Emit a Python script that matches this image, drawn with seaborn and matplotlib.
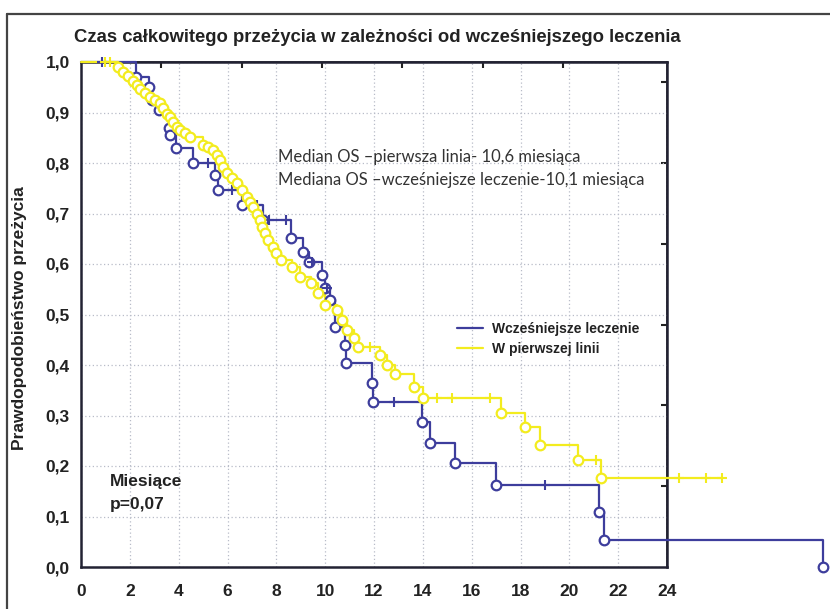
import numpy as np
import pandas as pd
import matplotlib
matplotlib.use("Agg")
import matplotlib.pyplot as plt
from matplotlib.lines import Line2D
import seaborn as sns

# ==========================================
# 1. DANE (miesiące, prawdopodobieństwo)
# ==========================================
# Wcześniejsze leczenie - zdarzenia (kółka)
wcz_t = [2.25, 2.8, 2.9, 3.2, 3.6, 3.65, 3.9, 4.6, 5.5, 5.6, 6.6, 7.45, 8.6, 9.1,
         9.35, 9.85, 10.0, 10.2, 10.4, 10.8, 10.85, 11.9, 11.95, 13.95, 14.3,
         15.3, 17.0, 21.2, 21.4, 30.4]
wcz_s = [0.97, 0.95, 0.925, 0.905, 0.87, 0.855, 0.83, 0.80, 0.776, 0.747, 0.717,
         0.687, 0.652, 0.624, 0.604, 0.578, 0.553, 0.529, 0.475, 0.44, 0.404,
         0.364, 0.327, 0.287, 0.246, 0.206, 0.162, 0.109, 0.053, 0.0]
# obserwacje ucięte (plusy)
wcz_cens = [0.86, 5.2, 6.2, 7.2, 7.7, 8.4, 9.45, 10.06, 12.8, 19.0]

# W pierwszej linii - zdarzenia
pl_t = [1.5, 1.73, 1.94, 2.14, 2.28, 2.42, 2.62, 2.83, 3.03, 3.24, 3.37, 3.51,
        3.64, 3.78, 3.92, 4.05, 4.26, 4.46, 5.0, 5.2, 5.42, 5.55, 5.69, 5.83,
        5.97, 6.17, 6.38, 6.58, 6.79, 6.92, 7.06, 7.19, 7.33, 7.40, 7.53, 7.67,
        7.87, 8.0, 8.2, 8.65, 8.97, 9.4, 9.7, 10.0, 10.5, 10.7, 10.9, 11.2,
        11.35, 12.24, 12.55, 12.86, 13.65, 14.0, 17.2, 18.2, 18.8, 20.35, 21.3]
pl_s = [0.99, 0.981, 0.972, 0.963, 0.954, 0.947, 0.938, 0.931, 0.925, 0.918,
        0.908, 0.898, 0.892, 0.882, 0.872, 0.865, 0.859, 0.852, 0.836, 0.832,
        0.826, 0.816, 0.806, 0.793, 0.78, 0.77, 0.76, 0.747, 0.733, 0.723,
        0.713, 0.70, 0.687, 0.674, 0.661, 0.648, 0.634, 0.621, 0.608, 0.594,
        0.575, 0.562, 0.542, 0.519, 0.509, 0.489, 0.469, 0.453, 0.436, 0.42,
        0.40, 0.382, 0.357, 0.335, 0.305, 0.277, 0.242, 0.212, 0.176]
pl_cens = [0.98, 1.19, 11.85, 14.6, 15.2, 16.75, 21.1, 24.5, 25.6, 26.25]

x_ticks = list(range(0, 25, 2))
y_ticks = [0.0, 0.1, 0.2, 0.3, 0.4, 0.5, 0.6, 0.7, 0.8, 0.9, 1.0]
y_labels = ["0,0", "0,1", "0,2", "0,3", "0,4", "0,5", "0,6", "0,7", "0,8", "0,9", "1,0"]

NIEBIESKI = "#3d3d9c"
ZOLTY = "#f3ec1e"


def krzywa(t_zd, s_zd, cens):
    # punkty schodkowe krzywej KM + poziomy dla obserwacji uciętych
    t = [0.0] + list(t_zd)
    s = [1.0] + list(s_zd)
    if max(cens) > t[-1]:
        t.append(max(cens))
        s.append(s[-1])
    kroki = pd.DataFrame({"t": t, "S": s})
    idx = np.searchsorted(np.array(t), np.array(cens), side="right") - 1
    plusy = pd.DataFrame({"t": cens, "S": np.array(s)[idx]})
    zdarzenia = pd.DataFrame({"t": t_zd, "S": s_zd})
    return kroki, zdarzenia, plusy


# ==========================================
# 2. WYKRES
# ==========================================
sns.set_theme(style="white")
plt.rcParams["font.family"] = ["Liberation Sans", "DejaVu Sans"]

fig = plt.figure(figsize=(8.3, 6.09), dpi=100)
ax = fig.add_axes([81 / 830, 1 - 567 / 609, 586 / 830, 505 / 609])

seria = [
    ("Wcześniejsze leczenie", wcz_t, wcz_s, wcz_cens, NIEBIESKI),
    ("W pierwszej linii", pl_t, pl_s, pl_cens, ZOLTY),
]
for nazwa, tt, ss, cc, kolor in seria:
    kroki, zdarzenia, plusy = krzywa(tt, ss, cc)
    sns.lineplot(data=kroki, x="t", y="S", drawstyle="steps-post", color=kolor,
                 lw=1.6, estimator=None, sort=False, clip_on=False, ax=ax,
                 label=nazwa, zorder=3)
    sns.scatterplot(data=zdarzenia, x="t", y="S", marker="o", s=48,
                    facecolor="white", edgecolor=kolor, linewidth=1.6,
                    clip_on=False, ax=ax, legend=False, zorder=4)
    sns.scatterplot(data=plusy, x="t", y="S", marker="+", s=45, color=kolor,
                    linewidth=1.5, clip_on=False, ax=ax, legend=False, zorder=4)

ax.set_xlim(0, 24)
ax.set_ylim(0, 1)
ax.set_xticks(x_ticks)
ax.set_xticklabels([str(v) for v in x_ticks])
ax.set_yticks(y_ticks)
ax.set_yticklabels(y_labels)
ax.set_xlabel("")
ax.set_ylabel("")
ax.grid(True, ls=(0, (1, 2)), color="#b8bcc8", lw=0.9)
ax.tick_params(direction="in", length=4, width=1.5, colors="#222222",
               labelcolor="#222222", labelsize=12.5, pad=8)
ax.tick_params(axis="x", pad=12)
for lab in ax.get_xticklabels() + ax.get_yticklabels():
    lab.set_fontweight("bold")
for sp in ax.spines.values():
    sp.set_linewidth(1.8)
    sp.set_color("#222233")

# dodatkowe znaczniki na górnej i prawej osi
ax_top = ax.secondary_xaxis("top", functions=(lambda m: m * 30.4, lambda d: d / 30.4))
ax_top.set_xticks([100, 200, 300, 400, 500, 600])
ax_top.tick_params(direction="in", length=4, width=1.5, labeltop=False, colors="#222222")
ax_r = ax.secondary_yaxis("right")
ax_r.set_yticks([0.16, 0.32, 0.48, 0.64, 0.80, 0.96])
ax_r.tick_params(direction="in", length=4, width=1.5, labelright=False, colors="#222222")

leg = ax.legend(loc="upper left", bbox_to_anchor=(0.62, 0.51), frameon=False,
                handlelength=1.9, handletextpad=0.6, labelspacing=0.45,
                prop={"size": 10, "weight": "bold"})
for t in leg.get_texts():
    t.set_color("#222222")

ax.text(0.336, 0.812, "Median OS –pierwsza linia- 10,6 miesiąca", transform=ax.transAxes,
        fontsize=12, family=["Lato", "DejaVu Sans"], color="#333333", va="center")
ax.text(0.336, 0.766, "Mediana OS –wcześniejsze leczenie-10,1 miesiąca", transform=ax.transAxes,
        fontsize=12, family=["Lato", "DejaVu Sans"], color="#333333", va="center")
ax.text(0.05, 0.17, "Miesiące", transform=ax.transAxes, fontsize=12.5,
        fontweight="bold", color="#222222", va="center")
ax.text(0.05, 0.123, "p=0,07", transform=ax.transAxes, fontsize=12.5,
        fontweight="bold", color="#222222", va="center")

fig.text(0.455, 1 - 38 / 609, "Czas całkowitego przeżycia w zależności od wcześniejszego leczenia",
         ha="center", va="center", fontsize=13.3, fontweight="bold", color="#222222")
fig.text(0.024, 1 - 318 / 609, "Prawdopodobieństwo przeżycia", rotation=90,
         ha="center", va="center", fontsize=12.5, fontweight="bold", color="#222222")

# ramka wokół całości (lewa i górna krawędź)
fig.add_artist(Line2D([7 / 830, 7 / 830], [0, 1 - 14 / 609], color="#444444", lw=1.6))
fig.add_artist(Line2D([7 / 830, 1], [1 - 14 / 609, 1 - 14 / 609], color="#444444", lw=1.6))

plt.savefig("out.png", dpi=100)
